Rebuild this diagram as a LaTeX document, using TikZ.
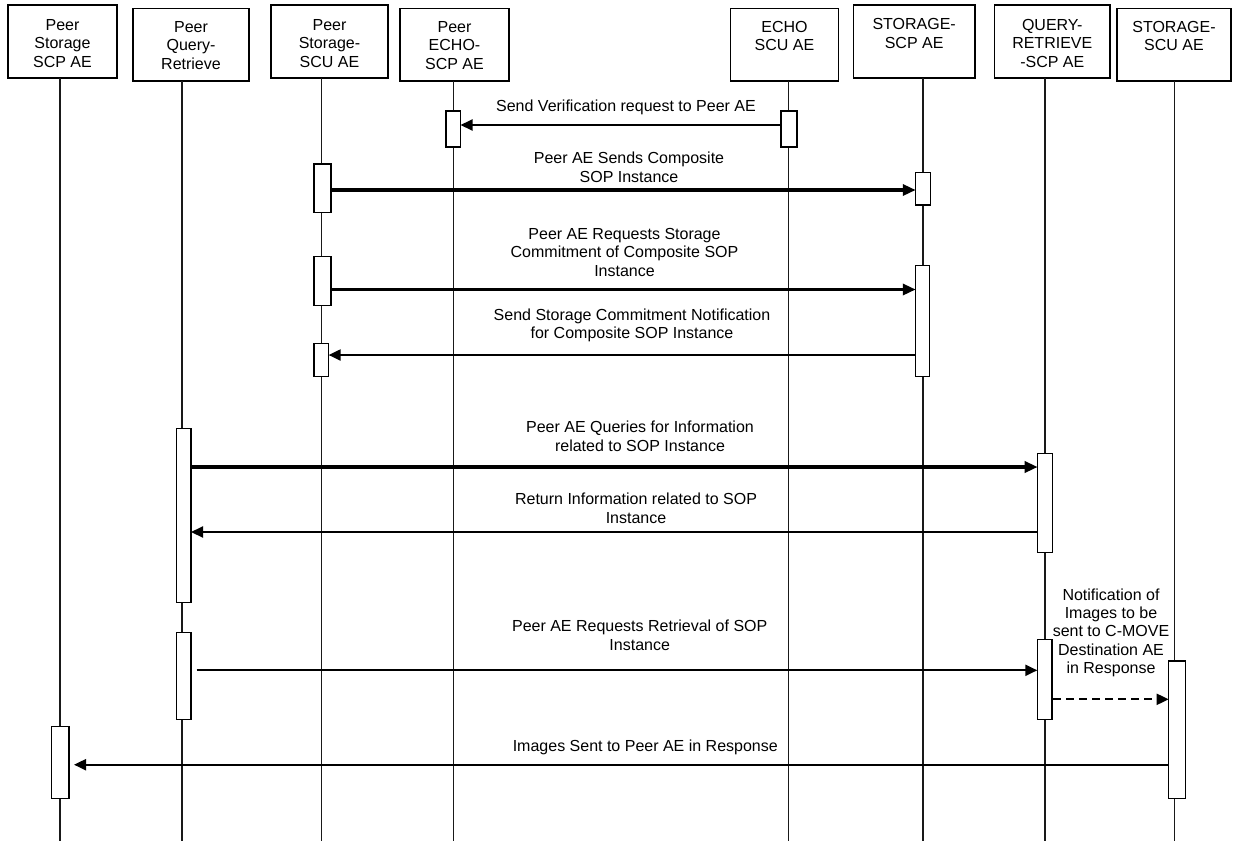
\documentclass[tikz,border=0pt]{standalone}
\usepackage{fontspec}
\setmainfont{Liberation Sans}
\usetikzlibrary{arrows.meta}
\begin{document}
\begin{tikzpicture}[x=1pt,y=-1pt,
  font=\fontsize{16}{18.4}\selectfont,
  hdr/.style={draw, line width=1.3pt, inner sep=0pt, outer sep=0pt},
  lbl/.style={anchor=base, align=center, inner sep=0pt},
  act/.style={draw, fill=white, line width=1.2pt, inner sep=0pt, outer sep=0pt},
  life/.style={line width=1.3pt, draw=black!90},
  msg/.style={line width=2pt, -{Triangle[length=12pt,width=11pt]}},
  boldmsg/.style={line width=3.3pt, -{Triangle[length=13pt,width=11pt]}},
  replymsg/.style={line width=2pt, dashed, dash pattern=on 8pt off 5pt, -{Triangle[length=12pt,width=11pt]}},
]
\useasboundingbox (0,0) rectangle (1233,841);

% header boxes
\node[hdr, minimum width=109pt, minimum height=73pt] (h1) at (62.5,41.5) {};
\node[hdr, minimum width=116pt, minimum height=72.7pt] (h2) at (191,44.65) {};
\node[hdr, minimum width=117pt, minimum height=73pt] (h3) at (329.5,41.5) {};
\node[hdr, minimum width=109pt, minimum height=72.7pt] (h4) at (454.5,44.65) {};
\node[hdr, minimum width=107.8pt, minimum height=72.7pt] (h5) at (784.5,44.65) {};
\node[hdr, minimum width=121.7pt, minimum height=73pt] (h6) at (914.15,41.5) {};
\node[hdr, minimum width=115.5pt, minimum height=73pt] (h7) at (1052.25,41.5) {};
\node[hdr, minimum width=114pt, minimum height=72.7pt] (h8) at (1174,44.65) {};

% header texts (base = baseline of last line)
\node[lbl] (t1) at (62.5,67) {Peer\\Storage\\SCP AE};
\node[lbl] (t2) at (191,69.3) {Peer\\Query-\\Retrieve};
\node[lbl] (t3) at (329.5,67) {Peer\\Storage-\\SCU AE};
\node[lbl] (t4) at (454.5,69.3) {Peer\\ECHO-\\SCP AE};
\node[lbl] (t5) at (784.5,50.7) {ECHO\\SCU AE};
\node[lbl] (t6) at (914.15,48.3) {STORAGE-\\SCP AE};
\node[lbl] (t7) at (1052.25,67) {QUERY-\\RETRIEVE\\-SCP AE};
\node[lbl] (t8) at (1174,50.7) {STORAGE-\\SCU AE};

% lifeline ends
\coordinate (b1) at (60,841);
\coordinate (b2) at (182,841);
\coordinate (b3) at (321.5,841);
\coordinate (b4) at (453.5,841);
\coordinate (b5) at (788.5,841);
\coordinate (b6) at (923,841);
\coordinate (b7) at (1045,841);
\coordinate (b8) at (1174.5,841);
\draw[life] (h1.south -| b1) -- (b1);
\draw[life] (h2.south -| b2) -- (b2);
\draw[life] (h3.south -| b3) -- (b3);
\draw[life] (h4.south -| b4) -- (b4);
\draw[life] (h5.south -| b5) -- (b5);
\draw[life] (h6.south -| b6) -- (b6);
\draw[life] (h7.south -| b7) -- (b7);
\draw[life] (h8.south -| b8) -- (b8);

% activation boxes
\node[act, minimum width=14.5pt, minimum height=36pt] (e4) at (453.25,129) {};
\node[act, minimum width=16pt, minimum height=36pt] (e5) at (789,129) {};
\node[act, minimum width=17pt, minimum height=48.3pt] (s3a) at (322.5,188.15) {};
\node[act, minimum width=14.5pt, minimum height=32.3pt] (s6a) at (923,188.85) {};
\node[act, minimum width=17pt, minimum height=48.6pt] (s3b) at (322.5,281) {};
\node[act, minimum width=13.5pt, minimum height=111.2pt] (s6b) at (922.5,321.1) {};
\node[act, minimum width=14.6pt, minimum height=33.4pt] (s3c) at (321.3,360) {};
\node[act, minimum width=14.7pt, minimum height=174pt] (q2a) at (183.65,515.3) {};
\node[act, minimum width=14.6pt, minimum height=99pt] (q7a) at (1045,503.2) {};
\node[act, minimum width=14.7pt, minimum height=87pt] (q2b) at (183.65,676.2) {};
\node[act, minimum width=14.7pt, minimum height=80.4pt] (q7b) at (1044.65,679.5) {};
\node[act, minimum width=17pt, minimum height=137.3pt] (s8) at (1177.2,729.65) {};
\node[act, minimum width=17.7pt, minimum height=71.6pt] (p1) at (60.15,762.5) {};

% messages
\draw[msg] (e5.west |- 0,125) -- (e4.east |- 0,125);
\draw[boldmsg] (s3a.east |- 0,190) -- (s6a.west |- 0,190);
\draw[boldmsg] (s3b.east |- 0,289.5) -- (s6b.west |- 0,289.5);
\draw[msg] (s6b.west |- 0,355) -- (s3c.east |- 0,355);
\draw[boldmsg] (q2a.east |- 0,467) -- (q7a.west |- 0,467);
\draw[msg] (q7a.west |- 0,532) -- (q2a.east |- 0,532);
\draw[msg] ([xshift=5.7pt]q2b.east |- 0,670.3) -- (q7b.west |- 0,670.3);
\draw[replymsg] ([xshift=1.3pt]q7b.east |- 0,699.3) -- (s8.west |- 0,699.3);
\draw[msg] (s8.west |- 0,764.7) -- ([xshift=5pt]p1.east |- 0,764.7);

% message labels (base = baseline of last line)
\node[lbl] (m1) at (626,111) {Send Verification request to Peer AE};
\node[lbl] (m2) at (629,182) {Peer AE Sends Composite\\SOP Instance};
\node[lbl] (m3) at (624.5,276) {Peer AE Requests Storage\\Commitment of Composite SOP\\Instance};
\node[lbl] (m4) at (632,338.7) {Send Storage Commitment Notification\\for Composite SOP Instance};
\node[lbl] (m5) at (640,451) {Peer AE Queries for Information\\related to SOP Instance};
\node[lbl] (m6) at (636,523.3) {Return Information related to SOP\\Instance};
\node[lbl] (m7) at (639.7,650.3) {Peer AE Requests Retrieval of SOP\\Instance};
\node[lbl] (m8) at (1111,673.7) {Notification of\\Images to be\\sent to C-MOVE\\Destination AE\\in Response};
\node[lbl] (m9) at (645.3,751.7) {Images Sent to Peer AE in Response};
\end{tikzpicture}
\end{document}
